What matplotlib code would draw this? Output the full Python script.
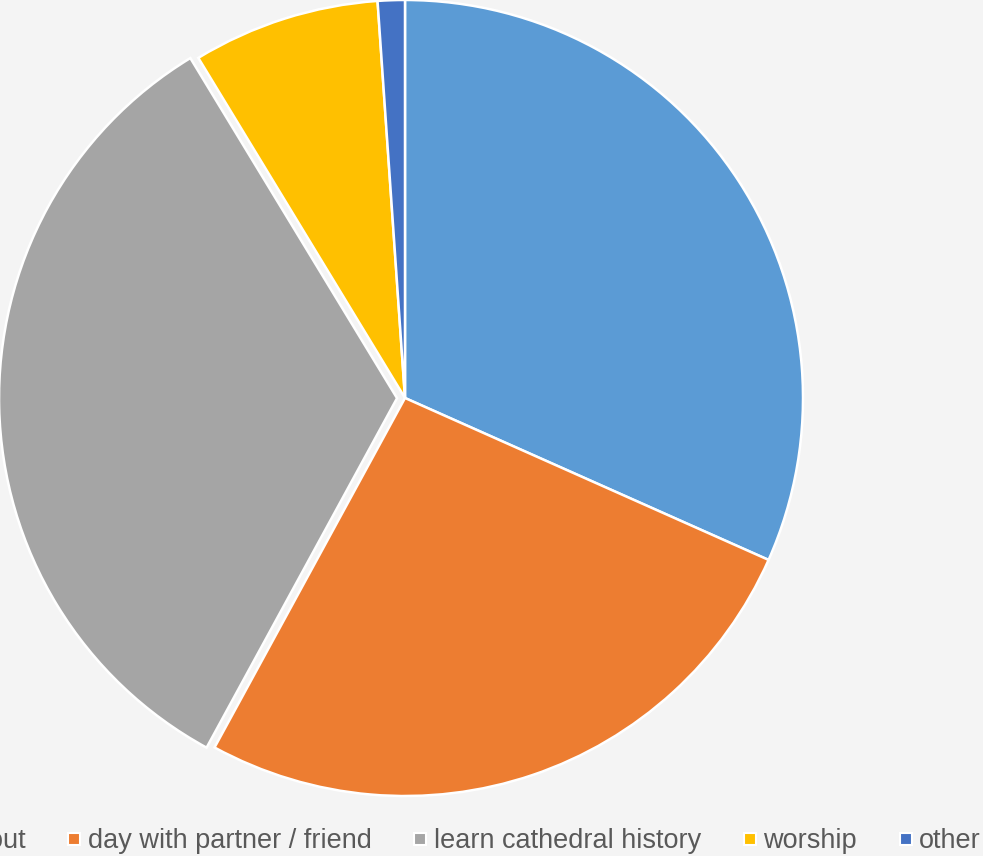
import matplotlib
matplotlib.use("Agg")
import matplotlib.pyplot as plt
from matplotlib.lines import Line2D

categories = ["family day out", "day with partner / friend", "learn cathedral history", "worship", "other"]
values = [31.7, 26.3, 33.4, 7.6, 1.1]
colors = ["#5B9BD5", "#ED7D31", "#A5A5A5", "#FFC000", "#4472C4"]
explode = [0, 0, 0.02, 0, 0]

W, H = 983, 856
fig = plt.figure(figsize=(W / 100, H / 100), dpi=100)
fig.patch.set_facecolor("#F4F4F4")

cx, cy, r = 405, 398, 398
ax = fig.add_axes([(cx - r) / W, (H - cy - r) / H, 2 * r / W, 2 * r / H])
ax.set_facecolor("none")
wedges, _ = ax.pie(values, colors=colors, startangle=90, counterclock=False,
                   explode=explode, radius=1,
                   wedgeprops=dict(edgecolor="white", linewidth=1.8))
for w in wedges:
    w.set_clip_on(False)
ax.set_xlim(-1, 1)
ax.set_ylim(-1, 1)
ax.set_aspect("equal")
ax.axis("off")

handles = [Line2D([], [], marker="s", linestyle="none", markersize=9,
                  markerfacecolor=c, markeredgecolor="white", markeredgewidth=1.5)
           for c in colors]
leg = fig.legend(handles, categories, ncol=5, loc="center right",
                 bbox_to_anchor=(981 / W, 1 - 841 / H), frameon=False,
                 prop={"family": "Liberation Sans", "size": 19.5},
                 handlelength=0.6, handletextpad=0.2, columnspacing=1.5,
                 borderpad=0, borderaxespad=0)
for t in leg.get_texts():
    t.set_color("#595959")

fig.savefig("out.png", dpi=100, facecolor=fig.get_facecolor())
